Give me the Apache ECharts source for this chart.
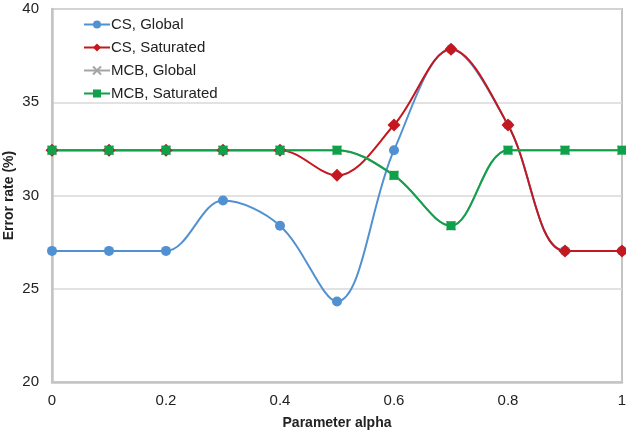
<!DOCTYPE html>
<html><head><meta charset="utf-8">
<script src="https://cdn.jsdelivr.net/npm/echarts@6/dist/echarts.min.js"></script>
<style>html,body{margin:0;padding:0;background:#fff}#c{width:626px;height:435px}</style>
</head><body><div id="c"></div>
<script>
const alphas = [0, 0.1, 0.2, 0.3, 0.4, 0.5, 0.6, 0.7, 0.8, 0.9, 1];
const csGlobal = [27.03, 27.03, 27.03, 29.73, 28.38, 24.32, 32.43, 37.84, 33.78, 27.03, 27.03];
const csSaturated = [32.43, 32.43, 32.43, 32.43, 32.43, 31.08, 33.78, 37.84, 33.78, 27.03, 27.03];
const mcbGlobal = [32.43, 32.43, 32.43, 32.43, 32.43, 32.43, 31.08, 28.38, 32.43, 32.43, 32.43];
const mcbSaturated = [32.43, 32.43, 32.43, 32.43, 32.43, 32.43, 31.08, 28.38, 32.43, 32.43, 32.43];
const xTicks = ['0', '0.2', '0.4', '0.6', '0.8', '1'];
const seriesNames = ['CS, Global', 'CS, Saturated', 'MCB, Global', 'MCB, Saturated'];

const pair = arr => alphas.map((a, i) => [a, arr[i]]);
const font = 'Liberation Sans, Arial, sans-serif';
const crossPath = 'path://M0,0L10,10M10,0L0,10';

const chart = echarts.init(document.getElementById('c'), null, {renderer: 'canvas'});
chart.setOption({
  animation: false,
  grid: {left: 52, right: 4, top: 9, bottom: 53, outerBoundsMode: 'none', containLabel: false,
         show: true, borderColor: '#c4c4c4', borderWidth: 2},
  legend: {
    orient: 'vertical', left: 78, top: 12, itemGap: 8, itemWidth: 26, itemHeight: 10,
    textStyle: {fontFamily: font, fontSize: 15, color: '#222', padding: [0, 0, 0, -4]},
    data: seriesNames
  },
  xAxis: {
    type: 'value', min: 0, max: 1, interval: 0.2,
    name: 'Parameter alpha', nameLocation: 'middle', nameGap: 34, nameMoveOverlap: false,
    nameTextStyle: {fontFamily: font, fontSize: 14, fontWeight: 'bold', color: '#222'},
    axisLine: {show: true, lineStyle: {color: '#c4c4c4', width: 2.5}},
    axisTick: {show: false},
    splitLine: {show: false},
    axisLabel: {fontFamily: font, fontSize: 15, color: '#222', margin: 11,
      formatter: v => xTicks[Math.round(v / 0.2)]}
  },
  yAxis: {
    type: 'value', min: 20, max: 40, interval: 5,
    name: 'Error rate (%)', nameLocation: 'middle', nameGap: 36, nameRotate: 90, nameMoveOverlap: false,
    nameTextStyle: {fontFamily: font, fontSize: 14, fontWeight: 'bold', color: '#222'},
    axisLine: {show: true, lineStyle: {color: '#c4c4c4', width: 2.5}},
    axisTick: {show: false},
    splitLine: {show: true, lineStyle: {color: '#d9d9d9', width: 1.5}},
    axisLabel: {fontFamily: font, fontSize: 15, color: '#222', margin: 13}
  },
  series: [
    {name: seriesNames[0], type: 'line', smooth: 0.35, data: pair(csGlobal),
     symbol: 'circle', symbolSize: 10, lineStyle: {color: '#5191d1', width: 2},
     itemStyle: {color: '#5191d1'}},
    {name: seriesNames[1], type: 'line', smooth: 0.35, data: pair(csSaturated),
     symbol: 'diamond', symbolSize: 13, lineStyle: {color: '#c4181e', width: 2},
     itemStyle: {color: '#c4181e'}},
    {name: seriesNames[2], type: 'line', smooth: 0.35, data: pair(mcbGlobal),
     symbol: crossPath, symbolSize: 9, lineStyle: {color: '#a5a5a5', width: 2},
     itemStyle: {color: '#a5a5a5', borderColor: '#a5a5a5', borderWidth: 1.5}},
    {name: seriesNames[3], type: 'line', smooth: 0.35, data: pair(mcbSaturated),
     symbol: 'rect', symbolSize: 9, lineStyle: {color: '#0fa14a', width: 2},
     itemStyle: {color: '#0fa14a'}}
  ]
});
</script></body></html>
